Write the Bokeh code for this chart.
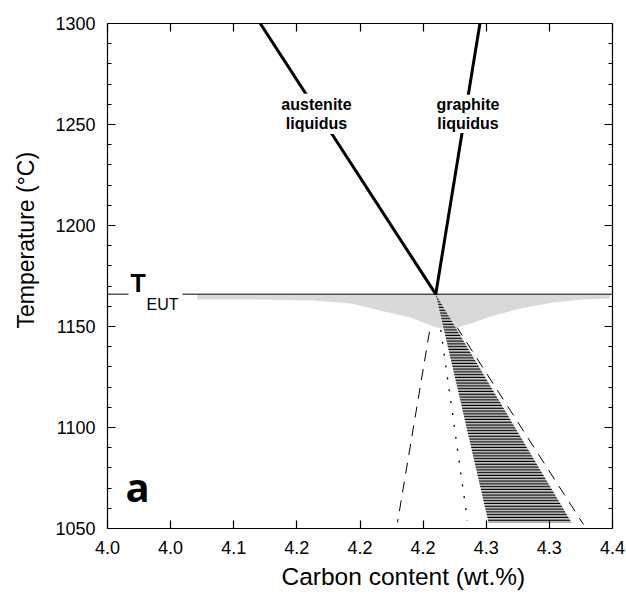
from bokeh.plotting import figure
from bokeh.models import LinearAxis, FixedTicker, Label, Span, Range1d, Title
from bokeh.embed import file_html
from bokeh.resources import INLINE

# ---- data ----
x_ticks = [4.00, 4.05, 4.10, 4.15, 4.20, 4.25, 4.30, 4.35, 4.40]
x_tick_labels = ["4.0", "4.0", "4.1", "4.2", "4.2", "4.2", "4.3", "4.3", "4.4"]
y_ticks = [1050, 1100, 1150, 1200, 1250, 1300]
y_minor = [1060, 1070, 1080, 1090, 1110, 1120, 1130, 1140, 1160, 1170, 1180, 1190,
           1210, 1220, 1230, 1240, 1260, 1270, 1280, 1290]

T_EUT = 1166.0
C_EUT = 4.26

aust_C = [4.121, C_EUT]
aust_T = [1300, T_EUT]
graph_C = [4.295, C_EUT]
graph_T = [1300, T_EUT]

gray_C = [4.071, 4.398, 4.398, 4.375, 4.353, 4.327, 4.301, 4.288, 4.270,
          4.256, 4.240, 4.216, 4.193, 4.163, 4.113, 4.071]
gray_T = [1165.8, 1165.8, 1163.9, 1163.4, 1161.9, 1158.9, 1154.5, 1151.5, 1148.0,
          1150.5, 1154.5, 1157.9, 1161.4, 1162.9, 1163.4, 1163.4]

hatch_C = [C_EUT, 4.3675, 4.3018]
hatch_T = [T_EUT, 1053.0, 1053.0]

dash_left_C = [C_EUT, 4.2297]
dash_left_T = [T_EUT, 1053.0]
dash_right_C = [C_EUT, 4.377]
dash_right_T = [T_EUT, 1052.0]
dot_C = [C_EUT, 4.2851]
dot_T = [T_EUT, 1054.0]

FONT = "Liberation Sans"

p = figure(width=626, height=600, x_range=Range1d(4.0, 4.4), y_range=Range1d(1050, 1300),
           output_backend="svg", toolbar_location=None,
           min_border_left=107, min_border_right=14, min_border_top=23, min_border_bottom=72)
p.xgrid.visible = False
p.ygrid.visible = False
p.outline_line_color = None
p.background_fill_color = "white"
p.border_fill_color = "white"

# reference lines below shaded areas
p.line(dash_left_C, dash_left_T, line_color="black", line_width=1, line_dash="11 8")
p.line(dash_right_C, dash_right_T, line_color="black", line_width=1, line_dash="11 8")
p.line(dot_C, dot_T, line_color="black", line_width=1.3, line_dash="2 10")

p.patch(gray_C, gray_T, fill_color="#d9d9d9", line_color=None)
p.patch(hatch_C, hatch_T, fill_color="#c8c8c8", line_color=None,
        hatch_pattern="horizontal_line", hatch_color="black", hatch_scale=2.8, hatch_weight=1.5)

p.line(aust_C, aust_T, line_color="black", line_width=3)
p.line(graph_C, graph_T, line_color="black", line_width=3)

p.add_layout(Span(location=T_EUT, dimension="width", line_color="black", line_width=1))

def style_axis(ax, show_labels=True, minor=True):
    ax.axis_line_color = "black"
    ax.axis_line_width = 1.2
    ax.major_tick_in = 8
    ax.major_tick_out = 0
    ax.minor_tick_in = 4 if minor else 0
    ax.minor_tick_out = 0
    ax.major_tick_line_color = "black"
    ax.minor_tick_line_color = "black" if minor else None
    ax.major_tick_line_width = 1.2
    ax.minor_tick_line_width = 1
    ax.major_label_text_font = FONT
    ax.major_label_text_color = "black"
    if show_labels:
        ax.major_label_text_font_size = "18px"
        ax.major_label_standoff = 12
    else:
        ax.major_label_text_font_size = "1px"
        ax.major_label_standoff = 0

xb = p.xaxis[0]
xb.ticker = FixedTicker(ticks=x_ticks, minor_ticks=[])
xb.major_label_overrides = {t: l for t, l in zip(x_ticks, x_tick_labels)}
style_axis(xb, True, False)

yl = p.yaxis[0]
yl.ticker = FixedTicker(ticks=y_ticks, minor_ticks=y_minor)
yl.major_label_overrides = {t: str(t) for t in y_ticks}
style_axis(yl, True, True)

yr = LinearAxis(ticker=FixedTicker(ticks=y_ticks, minor_ticks=y_minor),
                major_label_overrides={t: "" for t in y_ticks})
style_axis(yr, False, True)
p.add_layout(yr, "right")

xt = LinearAxis(ticker=FixedTicker(ticks=x_ticks, minor_ticks=[]),
                major_label_overrides={t: "" for t in x_ticks})
style_axis(xt, False, False)
p.add_layout(xt, "above")

# axis titles (offset from centre as in the reference)
p.add_layout(Title(text="Carbon content (wt.%)", align="left", offset=174, standoff=8,
                   text_font=FONT, text_font_size="24.5px", text_font_style="normal",
                   text_color="black"), "below")
p.add_layout(Title(text="Temperature (°C)", align="left", offset=200, standoff=24,
                   vertical_align="top",
                   text_font=FONT, text_font_size="23px", text_font_style="normal",
                   text_color="black"), "left")

# annotations
def lab(text, x, y, size, bold=False, font=FONT, align="center",
        bg=None, pad=0):
    l = Label(x=x, y=y, text=text, text_font=font, text_font_size=size,
              text_font_style="bold" if bold else "normal", text_color="black",
              text_align=align, text_baseline="middle",
              background_fill_color=bg, padding=pad)
    p.add_layout(l)
    return l

lab("austenite", 4.1655, 1260.0, "16px", bold=True, bg="white", pad=2)
lab("liquidus", 4.1655, 1250.5, "16px", bold=True, bg="white", pad=2)
lab("graphite", 4.2855, 1260.0, "16px", bold=True, bg="white", pad=1)
lab("liquidus", 4.2855, 1250.5, "16px", bold=True, bg="white", pad=1)

lab("T", 4.0166, 1171.5, "25px", bold=True, align="left", bg="white", pad=2)
lab("EUT", 4.0277, 1161.0, "16px", align="left", bg="white", pad=4)

lab("a", 4.0143, 1070.6, "40px", bold=True, font="Open Sans", align="left")

open("out.html", "w").write(file_html(p, INLINE))
